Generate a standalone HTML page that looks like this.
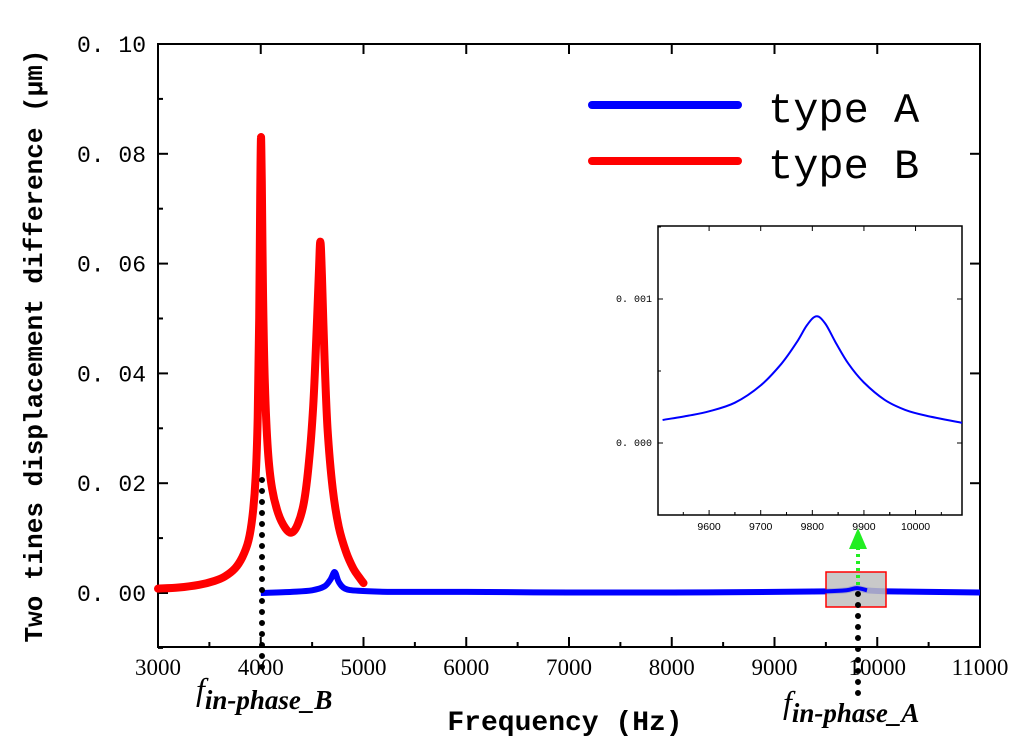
<!DOCTYPE html>
<html><head><meta charset="utf-8"><style>
body{margin:0;background:#fff;width:1024px;height:744px;overflow:hidden}
svg text{fill:#000}
</style></head><body>
<svg id="c" width="1024" height="744" xmlns="http://www.w3.org/2000/svg">
<g id="g"></g>
</svg>
<script>
const redX=[3000,3200,3400,3550,3650,3750,3820,3880,3920,3950,3970,3985,3995,4002,4010,4022,4040,4070,4110,4170,4240,4300,4360,4420,4470,4510,4540,4565,4580,4595,4620,4650,4700,4760,4830,4900,4960,5000];
const redY=[0.0008,0.001,0.0015,0.0022,0.003,0.0045,0.0065,0.0095,0.014,0.021,0.032,0.05,0.072,0.083,0.075,0.055,0.038,0.026,0.019,0.0145,0.0118,0.011,0.0125,0.0165,0.024,0.034,0.046,0.058,0.064,0.058,0.043,0.03,0.019,0.012,0.0075,0.0045,0.0028,0.0018];
const blueX=[4000,4300,4500,4620,4680,4720,4760,4820,4950,5300,6000,7000,8000,9000,9500,9700,9800,9900,10100,10500,11000];
const blueY=[0,0.0002,0.0005,0.0012,0.0025,0.0038,0.002,0.0008,0.0004,0.0002,0.0002,0.0001,0.0001,0.0002,0.0003,0.0005,0.0009,0.0005,0.0003,0.0002,0.0001];
const insX=[9510,9560,9600,9650,9700,9740,9770,9790,9808,9825,9845,9870,9900,9940,9980,10020,10090];
const insY=[0.00016,0.00019,0.00022,0.00028,0.0004,0.00055,0.0007,0.00082,0.00088,0.00083,0.0007,0.00055,0.00042,0.0003,0.00023,0.00019,0.00014];
const xTicks=["3000","4000","5000","6000","7000","8000","9000","10000","11000"];
const yTicks=["0. 00","0. 02","0. 04","0. 06","0. 08","0. 10"];
const insXT=["9600","9700","9800","9900","10000"];
const insYT=["0. 000","0. 001"];
const NS="http://www.w3.org/2000/svg",G=document.getElementById('g');
function mk(t,a,p){const e=document.createElementNS(NS,t);for(const k in a)e.setAttribute(k,a[k]);(p||G).appendChild(e);return e;}
const X=v=>158+(v-3000)*822/8000, Y=v=>593-v*5490;
const IX=v=>658+(v-9501)*304/589, IY=v=>443-v*144000;
let e=mk('rect',{x:158,y:44,width:822,height:603,fill:'none',stroke:'#000','stroke-width':2});

for(let i=0;i<xTicks.length;i++){const v=+xTicks[i],x=X(v);
 mk('line',{x1:x,x2:x,y1:647,y2:637,stroke:'#000','stroke-width':2});
 mk('line',{x1:x,x2:x,y1:44,y2:54,stroke:'#000','stroke-width':2});
 if(i<xTicks.length-1){mk('line',{x1:X(v+500),x2:X(v+500),y1:647,y2:642,stroke:'#000','stroke-width':2});}
 e=mk('text',{x:x,y:675,'text-anchor':'middle','font-family':'Liberation Serif,serif','font-size':23});e.textContent=xTicks[i];
 }
for(let i=0;i<yTicks.length;i++){const v=i*0.02,y=Y(v);
 mk('line',{x1:158,x2:168,y1:y,y2:y,stroke:'#000','stroke-width':2});
 mk('line',{x1:158,x2:163,y1:Y(v-0.01),y2:Y(v-0.01),stroke:'#000','stroke-width':2});
 mk('line',{x1:980,x2:970,y1:y,y2:y,stroke:'#000','stroke-width':2});
 e=mk('text',{x:146,y:y+8,'text-anchor':'end','font-family':'Liberation Mono,monospace','font-size':23});e.textContent=yTicks[i];
 }
function path(xs,ys,fx,fy){const p=xs.map((v,i)=>[fx(v),fy(ys[i])]);let d='M'+p[0][0].toFixed(1)+','+p[0][1].toFixed(1);
 for(let i=0;i<p.length-1;i++){const p0=p[i-1]||p[i],p1=p[i],p2=p[i+1],p3=p[i+2]||p2;
  const c1=[p1[0]+(p2[0]-p0[0])/6,p1[1]+(p2[1]-p0[1])/6],c2=[p2[0]-(p3[0]-p1[0])/6,p2[1]-(p3[1]-p1[1])/6];
  d+='C'+c1.map(n=>n.toFixed(1))+' '+c2.map(n=>n.toFixed(1))+' '+p2[0].toFixed(1)+','+p2[1].toFixed(1);}
 return d;}
e=mk('path',{d:path(redX,redY,X,Y),fill:'none',stroke:'#ff0000','stroke-width':8,'stroke-linejoin':'round','stroke-linecap':'round'});

e=mk('path',{d:path(blueX,blueY,X,Y),fill:'none',stroke:'#0000ff','stroke-width':6,'stroke-linejoin':'round'});

e=mk('line',{x1:592,x2:738,y1:105,y2:105,stroke:'#0000ff','stroke-width':8,'stroke-linecap':'round'});

e=mk('text',{x:768,y:122,'font-family':'Liberation Mono,monospace','font-size':42});e.textContent='type A';

e=mk('line',{x1:592,x2:738,y1:161,y2:161,stroke:'#ff0000','stroke-width':8,'stroke-linecap':'round'});

e=mk('text',{x:768,y:178,'font-family':'Liberation Mono,monospace','font-size':42});e.textContent='type B';

e=mk('rect',{x:826,y:572,width:60,height:35,fill:'#c0c0c0','fill-opacity':0.85,stroke:'#ff0000','stroke-width':1.5});

mk('path',{d:path(blueX.slice(13,18),blueY.slice(13,18),X,Y),fill:'none',stroke:'#0000ff','stroke-width':4});
e=mk('line',{x1:262,x2:262,y1:480,y2:672,stroke:'#000','stroke-width':6,'stroke-linecap':'round','stroke-dasharray':'0 11'});

e=mk('line',{x1:858,x2:858,y1:594,y2:700,stroke:'#000','stroke-width':6,'stroke-linecap':'round','stroke-dasharray':'0 11'});

e=mk('line',{x1:858,x2:858,y1:585,y2:548,stroke:'#22ee22','stroke-width':4,'stroke-dasharray':'3 4'});

mk('polygon',{points:'849,549 867,549 858,528',fill:'#22ee22'});
e=mk('rect',{x:658,y:226,width:304,height:289,fill:'#fff',stroke:'#000','stroke-width':1.5});

for(const t of insXT){const x=IX(+t);mk('line',{x1:x,x2:x,y1:515,y2:510,stroke:'#000'});mk('line',{x1:x,x2:x,y1:226,y2:231,stroke:'#000'});
 mk('line',{x1:x+25.8,x2:x+25.8,y1:515,y2:512,stroke:'#000'});mk('line',{x1:x-25.8,x2:x-25.8,y1:515,y2:512,stroke:'#000'});
 e=mk('text',{x:x,y:530,'text-anchor':'middle','font-family':'Liberation Sans,sans-serif','font-size':10.5});e.textContent=t;
 }
for(let i=0;i<insYT.length;i++){const y=IY(i*0.001);mk('line',{x1:658,x2:663,y1:y,y2:y,stroke:'#000'});mk('line',{x1:962,x2:957,y1:y,y2:y,stroke:'#000'});
 mk('line',{x1:658,x2:661,y1:IY(i*0.001+0.0005),y2:IY(i*0.001+0.0005),stroke:'#000'});
 e=mk('text',{x:652,y:y+3,'text-anchor':'end','font-family':'Liberation Mono,monospace','font-size':10});e.textContent=insYT[i];
 }
e=mk('path',{d:path(insX,insY,IX,IY),fill:'none',stroke:'#0000ff','stroke-width':2});

e=mk('text',{x:565,y:730,'text-anchor':'middle','font-family':'Liberation Mono,monospace','font-size':28,'font-weight':'bold'});e.textContent='Frequency (Hz)';

e=mk('text',{x:0,y:0,transform:'translate(42,346) rotate(-90)','text-anchor':'middle','font-family':'Liberation Mono,monospace','font-size':26,'font-weight':'bold'});e.textContent='Two tines displacement difference (μm)';

e=mk('text',{x:196,y:700,'font-family':'Liberation Serif,serif','font-style':'italic','font-size':32});e.innerHTML='f<tspan font-family="Liberation Serif,serif" font-size="27" font-weight="bold" dy="9">in-phase_B</tspan>';

e=mk('text',{x:783,y:713,'font-family':'Liberation Serif,serif','font-style':'italic','font-size':32});e.innerHTML='f<tspan font-family="Liberation Serif,serif" font-size="27" font-weight="bold" dy="9">in-phase_A</tspan>';

</script>
</body></html>
